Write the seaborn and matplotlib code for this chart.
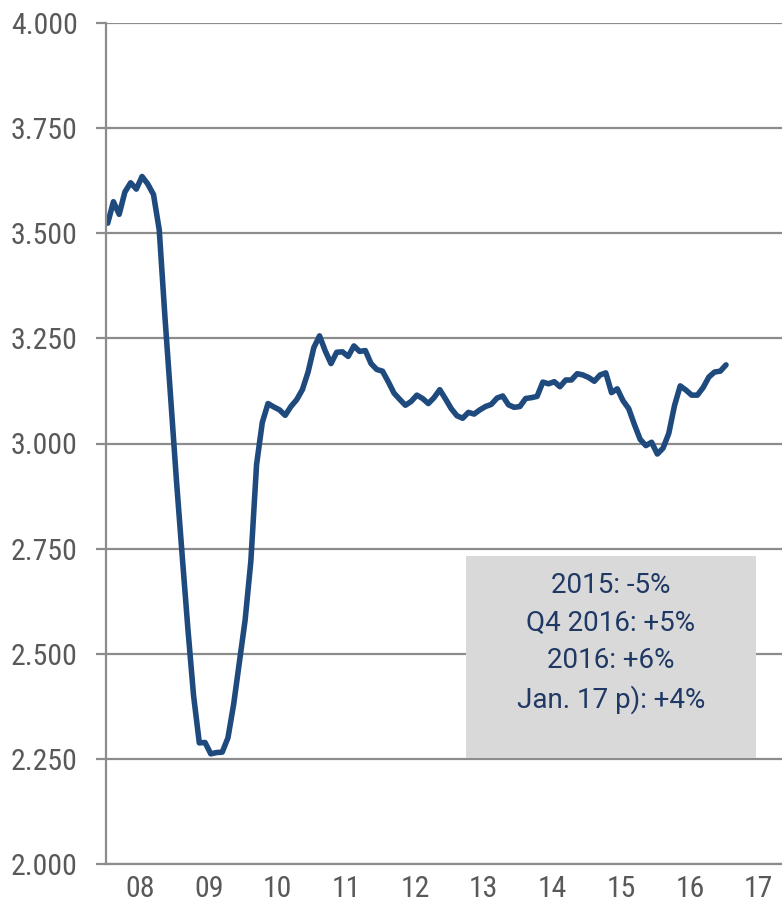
import numpy as np
import pandas as pd
import seaborn as sns
from matplotlib import pyplot as plt

# monthly values, Jan 2008 .. Jan 2017
values = [
    3.524, 3.575, 3.545, 3.598, 3.620, 3.605, 3.635, 3.617, 3.592, 3.508,
    3.300, 3.108, 2.913, 2.735, 2.560, 2.400, 2.288, 2.289, 2.262, 2.265,
    2.266, 2.300, 2.380, 2.480, 2.580, 2.720, 2.950, 3.050, 3.095, 3.087,
    3.080, 3.067, 3.088, 3.104, 3.128, 3.170, 3.228, 3.256, 3.220, 3.190,
    3.217, 3.218, 3.207, 3.232, 3.219, 3.221, 3.190, 3.176, 3.172, 3.147,
    3.120, 3.105, 3.091, 3.100, 3.115, 3.107, 3.095, 3.109, 3.128, 3.106,
    3.083, 3.066, 3.060, 3.074, 3.070, 3.080, 3.088, 3.093, 3.108, 3.113,
    3.092, 3.086, 3.088, 3.107, 3.109, 3.112, 3.146, 3.142, 3.147, 3.135,
    3.151, 3.151, 3.166, 3.163, 3.157, 3.148, 3.163, 3.168, 3.121, 3.130,
    3.102, 3.083, 3.045, 3.010, 2.995, 3.003, 2.975, 2.989, 3.024, 3.090,
    3.137, 3.127, 3.115, 3.115, 3.133, 3.158, 3.170, 3.172, 3.187,
]
year_labels = ["08", "09", "10", "11", "12", "13", "14", "15", "16", "17"]
y_ticks = [2.0, 2.25, 2.5, 2.75, 3.0, 3.25, 3.5, 3.75, 4.0]
note_lines = ["2015: -5%", "Q4 2016: +5%", "2016: +6%", "Jan. 17 p): +4%"]

df = pd.DataFrame({"t": 2008 + (np.arange(len(values)) + 0.3) / 12, "v": values})

sns.set_theme(style="white")
plt.rcParams["font.family"] = ["Liberation Sans Narrow", "Roboto Condensed",
                               "Roboto", "DejaVu Sans"]

grey = "#8c8c8c"
fig = plt.figure(figsize=(7.82, 9.09), dpi=100)
ax = fig.add_axes([106 / 782, 1 - 864 / 909, 1 - 106 / 782, (864 - 23) / 909])

sns.lineplot(data=df, x="t", y="v", ax=ax, color="#1f4a7e", linewidth=4.0)

ax.set_xlim(2008, 2008 + 676 / 68.7)
ax.set_ylim(2.0, 4.0)
ax.set_yticks(y_ticks)
ax.set_yticklabels([f"{t:.3f}" for t in y_ticks])
ax.set_xticks([2008.5 + i for i in range(len(year_labels))])
ax.set_xticklabels(year_labels)
ax.set_xlabel("")
ax.set_ylabel("")

for y in y_ticks:
    ax.axhline(y, color=grey, linewidth=1.6, zorder=0)

for side in ["top", "right"]:
    ax.spines[side].set_visible(False)
for side in ["left", "bottom"]:
    ax.spines[side].set_color(grey)
    ax.spines[side].set_linewidth(1.6)

ax.tick_params(axis="y", length=7.2, width=1.6, color=grey, pad=13,
               labelsize=21.5, labelcolor="#595959", left=True)
ax.tick_params(axis="x", length=0, pad=8, labelsize=21.5, labelcolor="#595959")

# grey note box
box = plt.Rectangle((360 / 676, (864 - 758) / 841), 290 / 676, 202 / 841,
                    transform=ax.transAxes, facecolor="#d9d9d9",
                    edgecolor="none", zorder=3)
ax.add_patch(box)
ax.text(505 / 676, (864 - 643) / 841, "\n".join(note_lines),
        transform=ax.transAxes, ha="center", va="center", fontsize=20,
        color="#1f3864", family=["Roboto", "DejaVu Sans"], linespacing=1.5,
        zorder=4)

fig.savefig("out.png", dpi=100)
